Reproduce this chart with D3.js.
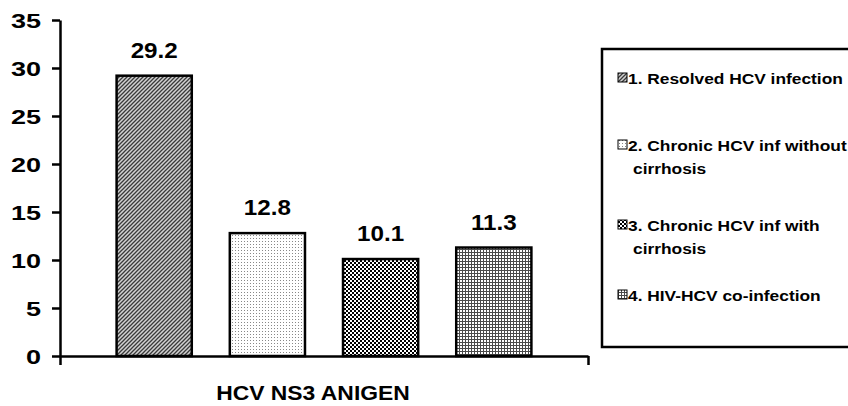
<!DOCTYPE html>
<html lang="en">
<head>
<meta charset="UTF-8">
<title>HCV NS3 ANIGEN</title>
<script src="https://d3js.org/d3.v7.min.js"></script>
<style>
    body { margin: 0; background: #fff; }
    text { font-family: Arial, "Liberation Sans", sans-serif; font-weight: bold; fill: #000; }
    .axis path, .axis line { stroke: #000; stroke-width: 2.5px; }
    .axis text { font-size: 20px; }
</style>
</head>
<body>
<div id="chart"></div>
<script>
    const category = "HCV NS3 ANIGEN";
    const seriesNames = [
        "1. Resolved HCV infection",
        "2. Chronic HCV inf without cirrhosis",
        "3. Chronic HCV inf with cirrhosis",
        "4. HIV-HCV co-infection"
    ];
    const legendLines = [
        ["1. Resolved HCV infection"],
        ["2. Chronic HCV inf without", "cirrhosis"],
        ["3. Chronic HCV inf with", "cirrhosis"],
        ["4. HIV-HCV co-infection"]
    ];
    const values = [29.2, 12.8, 10.1, 11.3];
    const yTicks = [0, 5, 10, 15, 20, 25, 30, 35];

    const W = 848, H = 406;
    const plot = { left: 60, right: 588, top: 20, bottom: 356 };

    const svg = d3.select("#chart").append("svg")
        .attr("width", W).attr("height", H);

    // fill patterns, one per series
    const defs = svg.append("defs");

    const p1 = defs.append("pattern").attr("id", "pat0")
        .attr("patternUnits", "userSpaceOnUse").attr("width", 4).attr("height", 4);
    p1.append("rect").attr("width", 4).attr("height", 4).attr("fill", "#d2d2d2");
    p1.append("path").attr("d", "M-1,1 l2,-2 M0,4 l4,-4 M3,5 l2,-2")
        .attr("stroke", "#3a3a3a").attr("stroke-width", 1.3);

    const p2 = defs.append("pattern").attr("id", "pat1")
        .attr("patternUnits", "userSpaceOnUse").attr("width", 3).attr("height", 3);
    p2.append("rect").attr("width", 3).attr("height", 3).attr("fill", "#fff");
    p2.append("rect").attr("x", 1).attr("y", 1).attr("width", 1).attr("height", 1).attr("fill", "#888");

    const p3 = defs.append("pattern").attr("id", "pat2")
        .attr("patternUnits", "userSpaceOnUse").attr("width", 4).attr("height", 4);
    p3.append("rect").attr("width", 4).attr("height", 4).attr("fill", "#fff");
    p3.append("rect").attr("width", 2).attr("height", 2).attr("fill", "#000");
    p3.append("rect").attr("x", 2).attr("y", 2).attr("width", 2).attr("height", 2).attr("fill", "#000");

    const p4 = defs.append("pattern").attr("id", "pat3")
        .attr("patternUnits", "userSpaceOnUse").attr("width", 3).attr("height", 3);
    p4.append("rect").attr("width", 3).attr("height", 3).attr("fill", "#fff");
    p4.append("rect").attr("width", 3).attr("height", 1).attr("fill", "#4a4a4a");
    p4.append("rect").attr("width", 1).attr("height", 3).attr("fill", "#4a4a4a");

    // scales
    const x0 = d3.scaleBand().domain([category]).range([plot.left, plot.right]);
    const x1 = d3.scaleBand().domain(seriesNames)
        .range([0, x0.bandwidth()])
        .paddingInner(0.336).paddingOuter(0.5);
    const y = d3.scaleLinear().domain([0, 35]).range([plot.bottom, plot.top]);

    // bars
    const bars = svg.append("g");
    bars.selectAll("rect")
        .data(values)
        .join("rect")
        .attr("x", (d, i) => x0(category) + x1(seriesNames[i]))
        .attr("y", d => y(d))
        .attr("width", x1.bandwidth())
        .attr("height", d => y(0) - y(d))
        .attr("fill", (d, i) => `url(#pat${i})`)
        .attr("stroke", "#000")
        .attr("stroke-width", 2.5);

    // value labels
    svg.append("g").selectAll("text")
        .data(values)
        .join("text")
        .attr("text-anchor", "middle")
        .attr("font-size", 22)
        .attr("transform", (d, i) => {
            const cx = x0(category) + x1(seriesNames[i]) + x1.bandwidth() / 2;
            return `translate(${cx},${y(d) - 18}) scale(1.1,1)`;
        })
        .text(d => d.toFixed(1));

    // axes
    const yAxis = svg.append("g")
        .attr("class", "axis")
        .attr("transform", `translate(${plot.left},0)`)
        .call(d3.axisLeft(y).tickValues(yTicks).tickSize(8).tickSizeOuter(0));
    yAxis.selectAll("text")
        .attr("transform", "scale(1.35,1)")
        .attr("x", -19 / 1.35)
        .attr("dy", "0.36em");

    const xEdge = d3.scaleLinear().domain([0, 1]).range([plot.left, plot.right]);
    svg.append("g")
        .attr("class", "axis")
        .attr("transform", `translate(0,${plot.bottom})`)
        .call(d3.axisBottom(xEdge).tickValues([0, 1]).tickSize(9).tickSizeOuter(0).tickFormat(""));

    // category title
    svg.append("text")
        .attr("text-anchor", "middle")
        .attr("font-size", 21)
        .attr("transform", `translate(${x0(category) + x0.bandwidth() / 2 - 11},400) scale(1.09,1)`)
        .text(category);

    // legend
    const legend = svg.append("g");
    legend.append("rect")
        .attr("x", 602).attr("y", 49)
        .attr("width", 270).attr("height", 298)
        .attr("fill", "#fff").attr("stroke", "#000").attr("stroke-width", 2.5);

    const rowY = [78, 145, 225, 295];
    const item = legend.selectAll("g.item")
        .data(legendLines)
        .join("g")
        .attr("class", "item")
        .attr("transform", (d, i) => `translate(618,${rowY[i]})`);
    item.append("rect")
        .attr("x", 0).attr("y", -5)
        .attr("width", 9).attr("height", 9)
        .attr("fill", (d, i) => `url(#pat${i})`)
        .attr("stroke", "#000").attr("stroke-width", 1);
    item.each(function (lines) {
        const g = d3.select(this);
        lines.forEach((t, k) => {
            g.append("text")
                .attr("font-size", 15.5)
                .attr("transform", `translate(${k === 0 ? 10 : 15},${k * 23}) scale(1.12,1)`)
                .attr("dy", "0.36em")
                .text(t);
        });
    });
</script>
</body>
</html>
